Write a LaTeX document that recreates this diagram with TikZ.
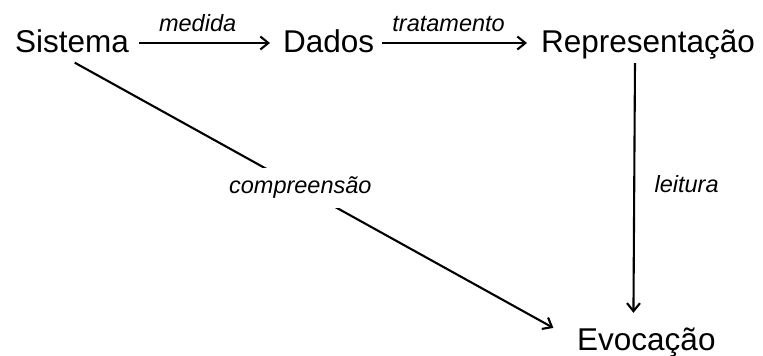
\documentclass[tikz,border=0pt]{standalone}
\usepackage{fontspec}
\setmainfont{Liberation Sans}
\usetikzlibrary{arrows.meta}
\begin{document}
\begin{tikzpicture}[x=1pt,y=-1pt,
  term/.style={inner sep=0pt, font=\fontsize{31.5}{36}\selectfont, text height=24pt, text depth=6pt},
  lbl/.style={font=\fontsize{23.5}{28}\selectfont\itshape},
  conn/.style={line width=2.1pt, -{Straight Barb[length=8pt,width=13pt,line width=2.1pt]}}]
\useasboundingbox (0,0) rectangle (763,356);
\node[term, anchor=base west] (S) at (15,52) {Sistema};
\node[term, anchor=base west] (D) at (283,52) {Dados};
\node[term, anchor=base west] (R) at (541,52) {Representação};
\node[term, anchor=base west] (E) at (577,350) {Evocação};
\draw[conn, shorten <=10pt, shorten >=13pt] (S.east) -- (D.west)
  node[lbl, pos=0.445, anchor=base, yshift=12pt] (m) {medida};
\draw[conn, shorten <=8pt, shorten >=14pt] (D.east) -- (R.west)
  node[lbl, pos=0.445, anchor=base, yshift=12pt] (t) {tratamento};
\draw[conn, shorten <=5pt, shorten >=13pt] ([xshift=-13pt]R.south) -- ([xshift=-13pt]E.north)
  node[lbl, pos=0.5, anchor=base west, xshift=16pt] (l) {leitura};
\draw[conn, shorten <=3pt, shorten >=27pt] ([yshift=-3pt]S.south) -- (E.west)
  node[lbl, pos=0.452, fill=white, inner xsep=2pt, inner ysep=9pt, text height=17pt, text depth=5pt] (c) {compreensão};
\end{tikzpicture}
\end{document}
